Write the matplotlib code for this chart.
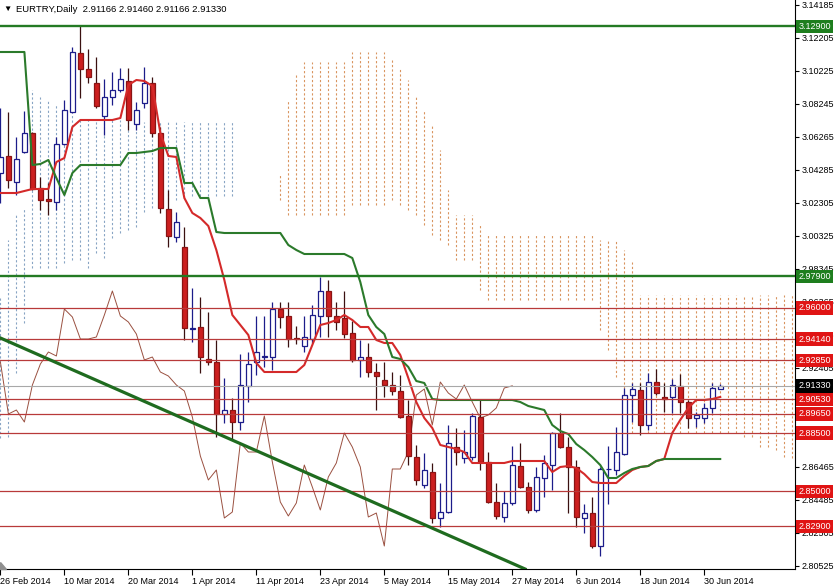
import matplotlib
matplotlib.use("Agg")
import matplotlib.pyplot as plt
import matplotlib.transforms as mtransforms
from matplotlib.patches import Polygon
import numpy as np
import pandas as pd

plt.rcParams["font.family"] = ["Liberation Sans", "DejaVu Sans"]

# EURTRY daily bars, first bar 26 Feb 2014
opens = [3.0410, 3.0512, 3.0356, 3.0536, 3.0650, 3.0320, 3.0254, 3.0236, 3.0584, 3.0776,
         3.1130, 3.1034, 3.0950, 3.0752, 3.0866, 3.0908, 3.0962, 3.0704, 3.0830, 3.0950,
         3.0650, 3.0194, 3.0026, 2.9966, 2.9474, 2.9486, 2.9294, 2.9276, 2.8964, 2.8988,
         2.8916, 2.9132, 2.9276, 2.9306, 2.9306, 2.9594, 2.9552, 2.9420, 2.9372, 2.9414,
         2.9552, 2.9702, 2.9552, 2.9540, 2.9450, 2.9288, 2.9306, 2.9216, 2.9168, 2.9138,
         2.9102, 2.8952, 2.8706, 2.8538, 2.8616, 2.8340, 2.8376, 2.8766, 2.8700, 2.8706,
         2.8946, 2.8676, 2.8436, 2.8346, 2.8430, 2.8652, 2.8526, 2.8388, 2.8580, 2.8658,
         2.8850, 2.8766, 2.8646, 2.8340, 2.8370, 2.8172, 2.8634, 2.8628, 2.8724, 2.9078,
         2.9108, 2.8898, 2.9156, 2.9066, 2.9066, 2.9132, 2.9036, 2.8940, 2.8940, 2.9000,
         2.91166]
highs = [3.0800, 3.0776, 3.0626, 3.0782, 3.0656, 3.0386, 3.0350, 3.0626, 3.0848, 3.1166,
         3.1292, 3.1154, 3.1106, 3.0974, 3.1016, 3.1040, 3.1040, 3.0836, 3.1046, 3.0986,
         3.0686, 3.0308, 3.0176, 3.0086, 2.9720, 2.9666, 2.9576, 2.9408, 2.9180, 2.9060,
         2.9324, 2.9336, 2.9552, 2.9552, 2.9636, 2.9636, 2.9636, 2.9492, 2.9552, 2.9618,
         2.9786, 2.9768, 2.9636, 2.9702, 2.9522, 2.9408, 2.9390, 2.9270, 2.9276, 2.9216,
         2.9198, 2.9048, 2.8778, 2.8730, 2.8670, 2.8550, 2.8898, 2.8880, 2.8868, 2.8970,
         2.9048, 2.8736, 2.8550, 2.8502, 2.8772, 2.8790, 2.8556, 2.8646, 2.8718, 2.8856,
         2.8970, 2.8826, 2.8688, 2.8424, 2.8466, 2.8646, 2.8772, 2.8886, 2.9120, 2.9150,
         2.9150, 2.9210, 2.9234, 2.9150, 2.9174, 2.9204, 2.9048, 2.8976, 2.9030, 2.9150,
         2.91460]
lows = [3.0230, 3.0320, 3.0278, 3.0530, 3.0308, 3.0188, 3.0158, 3.0188, 3.0578, 3.0770,
        3.0860, 3.0950, 3.0800, 3.0638, 3.0818, 3.0896, 3.0668, 3.0668, 3.0800, 3.0626,
        3.0170, 2.9966, 2.9996, 2.9408, 2.9396, 2.9210, 2.9258, 2.8826, 2.8910, 2.8808,
        2.8868, 2.9036, 2.9198, 2.9246, 2.9228, 2.9480, 2.9366, 2.9384, 2.9336, 2.9390,
        2.9426, 2.9426, 2.9468, 2.9420, 2.9276, 2.9186, 2.9186, 2.8988, 2.9066, 2.9078,
        2.8940, 2.8658, 2.8538, 2.8520, 2.8310, 2.8286, 2.8370, 2.8658, 2.8670, 2.8688,
        2.8628, 2.8430, 2.8334, 2.8316, 2.8418, 2.8520, 2.8370, 2.8376, 2.8466, 2.8508,
        2.8760, 2.8370, 2.8286, 2.8250, 2.8160, 2.8112, 2.8424, 2.8598, 2.8718, 2.8916,
        2.8838, 2.8868, 2.9078, 2.8976, 2.8970, 2.8970, 2.8880, 2.8886, 2.8910, 2.8970,
        2.91166]
closes = [3.0506, 3.0368, 3.0494, 3.0650, 3.0314, 3.0248, 3.0242, 3.0584, 3.0788, 3.1136,
          3.1034, 3.0986, 3.0812, 3.0866, 3.0908, 3.0974, 3.0728, 3.0788, 3.0950, 3.0650,
          3.0200, 3.0032, 3.0116, 2.9480, 2.9480, 2.9306, 2.9276, 2.8964, 2.8988, 2.8916,
          2.9138, 2.9264, 2.9336, 2.9312, 2.9594, 2.9546, 2.9414, 2.9414, 2.9426, 2.9558,
          2.9702, 2.9552, 2.9516, 2.9444, 2.9288, 2.9306, 2.9216, 2.9192, 2.9138, 2.9102,
          2.8946, 2.8712, 2.8568, 2.8628, 2.8340, 2.8376, 2.8790, 2.8736, 2.8736, 2.8952,
          2.8676, 2.8436, 2.8352, 2.8430, 2.8658, 2.8526, 2.8388, 2.8586, 2.8670, 2.8850,
          2.8766, 2.8646, 2.8346, 2.8370, 2.8172, 2.8634, 2.8634, 2.8736, 2.9078, 2.9114,
          2.8898, 2.9156, 2.9090, 2.9054, 2.9138, 2.9036, 2.8940, 2.8958, 2.9000, 2.9120,
          2.91330]

# Ichimoku lines
tenkan = [3.0290, 3.0290, 3.0290, 3.0302, 3.0314, 3.0314, 3.0314, 3.0476, 3.0500, 3.0686,
          3.0728, 3.0728, 3.0728, 3.0728, 3.0728, 3.0740, 3.0938, 3.0968, 3.0962, 3.0932,
          3.0650, 3.0512, 3.0506, 3.0260, 3.0170, 3.0140, 3.0092, 2.9948, 2.9768, 2.9558,
          2.9498, 2.9438, 2.9270, 2.9216, 2.9216, 2.9216, 2.9216, 2.9216, 2.9258, 2.9378,
          2.9498, 2.9510, 2.9528, 2.9558, 2.9528, 2.9486, 2.9486, 2.9408, 2.9390, 2.9390,
          2.9318, 2.9180, 2.9036, 2.8940, 2.8880, 2.8778, 2.8766, 2.8754, 2.8736, 2.8670,
          2.8670, 2.8670, 2.8670, 2.8670, 2.8682, 2.8682, 2.8682, 2.8682, 2.8682, 2.8616,
          2.8646, 2.8652, 2.8640, 2.8604, 2.8556, 2.8550, 2.8550, 2.8550, 2.8592, 2.8628,
          2.8646, 2.8652, 2.8682, 2.8694, 2.8850, 2.8928, 2.9000, 2.9048, 2.9048, 2.9054,
          2.9066]
kijun = [3.1136, 3.1136, 3.1136, 3.1136, 3.0458, 3.0464, 3.0488, 3.0380, 3.0278, 3.0410,
         3.0458, 3.0458, 3.0458, 3.0458, 3.0458, 3.0458, 3.0530, 3.0530, 3.0536, 3.0542,
         3.0560, 3.0560, 3.0560, 3.0350, 3.0350, 3.0260, 3.0260, 3.0056, 3.0050, 3.0050,
         3.0050, 3.0050, 3.0050, 3.0050, 3.0050, 3.0050, 2.9978, 2.9948, 2.9924, 2.9924,
         2.9924, 2.9924, 2.9924, 2.9924, 2.9900, 2.9756, 2.9558, 2.9486, 2.9444, 2.9306,
         2.9294, 2.9246, 2.9162, 2.9150, 2.9054, 2.9048, 2.9048, 2.9048, 2.9048, 2.9048,
         2.9048, 2.9048, 2.9048, 2.9048, 2.9048, 2.9036, 2.9012, 2.9000, 2.8988, 2.8898,
         2.8862, 2.8844, 2.8784, 2.8748, 2.8706, 2.8658, 2.8580, 2.8580, 2.8610, 2.8634,
         2.8646, 2.8652, 2.8682, 2.8694, 2.8694, 2.8694, 2.8694, 2.8694, 2.8694, 2.8694,
         2.8694]

# kumo, one column per bar (extends 26 bars past the last candle)
span_a = [2.9666, 3.0008, 3.0170, 3.0200, 3.0908, 3.0866, 3.0848, 3.0818, 3.0788, 3.0758,
          3.0740, 3.0728, 3.0728, 3.0728, 3.0728, 3.0728, 3.0716, 3.0716, 3.0716, 3.0716,
          3.0716, 3.0716, 3.0716, 3.0716, 3.0716, 3.0716, 3.0716, 3.0716, 3.0716, 3.0716,
          3.0400, 3.0400, 3.0400, 3.0400, 3.0400, 3.0248, 3.0158, 3.0158, 3.0158, 3.0158,
          3.0158, 3.0158, 3.0158, 3.0158, 3.0218, 3.0218, 3.0218, 3.0218, 3.0218, 3.0248,
          3.0218, 3.0188, 3.0158, 3.0098, 3.0038, 3.0008, 2.9978, 2.9888, 2.9888, 2.9888,
          2.9708, 2.9648, 2.9648, 2.9648, 2.9648, 2.9648, 2.9648, 2.9648, 2.9648, 2.9648,
          2.9648, 2.9648, 2.9648, 2.9648, 2.9648, 2.9468, 2.9348, 2.9186, 2.8850, 2.8850,
          2.8850, 2.8850, 2.8850, 2.8850, 2.8850, 2.8850, 2.8850, 2.8850, 2.8850, 2.8850,
          2.8850, 2.8850, 2.8850, 2.8826, 2.8826, 2.8766, 2.8766, 2.8748, 2.8706, 2.8700]
span_b = [2.8820, 2.8826, 2.9210, 2.9510, 2.9840, 2.9840, 2.9840, 2.9840, 2.9870, 2.9888,
          2.9888, 2.9840, 2.9930, 2.9900, 3.0020, 3.0050, 3.0068, 3.0086, 3.0176, 3.0200,
          3.0218, 3.0248, 3.0248, 3.0260, 3.0272, 3.0272, 3.0272, 3.0272, 3.0272, 3.0272,
          3.0400, 3.0400, 3.0400, 3.0400, 3.0400, 3.0398, 3.0848, 3.0998, 3.1076, 3.1076,
          3.1076, 3.1076, 3.1076, 3.1076, 3.1136, 3.1136, 3.1136, 3.1136, 3.1136, 3.1088,
          3.1040, 3.0968, 3.0878, 3.0788, 3.0698, 3.0548, 3.0308, 3.0158, 3.0158, 3.0158,
          3.0098, 3.0038, 3.0038, 3.0038, 3.0038, 3.0038, 3.0038, 3.0038, 3.0038, 3.0038,
          3.0038, 3.0038, 3.0038, 3.0038, 3.0038, 3.0008, 3.0008, 3.0008, 2.9948, 2.9876,
          2.9678, 2.9678, 2.9678, 2.9678, 2.9678, 2.9678, 2.9678, 2.9678, 2.9678, 2.9678,
          2.9678, 2.9678, 2.9678, 2.9678, 2.9678, 2.9678, 2.9678, 2.9678, 2.9678, 2.9678]

green_levels = [3.1290, 2.9790]
red_levels = [2.9600, 2.9414, 2.9285, 2.9053, 2.8965, 2.8850, 2.8500, 2.8290]
last_price = 2.9133
trend_points = [(0, 2.9420), (65.6, 2.8034)]

axis_ticks = [3.14185 - 0.0198 * k for k in range(18)]
hidden_ticks = [2.90425, 2.88445]  # covered by the price tags
date_step = 8
symbol = "EURTRY,Daily"


def main():
    n = len(closes)
    x = np.arange(n)
    o, h, l, c = (np.array(v) for v in (opens, highs, lows, closes))
    bull = c >= o
    dates = pd.bdate_range("2014-02-26", periods=n)

    fig = plt.figure(figsize=(8.34, 5.86), dpi=100)
    ax = fig.add_axes([0, 17 / 586, 795 / 834, 569 / 586])
    ax.set_xlim(-0.05, 99.35)
    ax.set_ylim(2.8034, 3.1448)

    # kumo drawn as dotted columns
    xc = np.arange(len(span_a))
    a, b = np.array(span_a), np.array(span_b)
    up = a > b
    dn = a < b
    ax.vlines(xc[up], b[up], a[up], colors="#88a4c4", linestyles=(0, (2, 2)),
              linewidth=0.8, zorder=1)
    ax.vlines(xc[dn], a[dn], b[dn], colors="#d9945f", linestyles=(0, (2, 2)),
              linewidth=0.8, zorder=1)

    # chikou span = close shifted 26 bars back
    ax.plot(x[26:] - 26, c[26:], color="#9a5040", linewidth=0.7, zorder=2)

    # candles
    ax.vlines(x[bull], l[bull], h[bull], colors="#1c1c8a", linewidth=0.9, zorder=3)
    ax.vlines(x[~bull], l[~bull], h[~bull], colors="#3a1010", linewidth=0.9, zorder=3)
    ax.bar(x[bull], (c - o)[bull], bottom=o[bull], width=0.62, color="white",
           edgecolor="#1c1c8a", linewidth=0.9, zorder=4)
    ax.bar(x[~bull], (o - c)[~bull], bottom=c[~bull], width=0.62, color="#cc1f1f",
           edgecolor="#8a1414", linewidth=0.9, zorder=4)

    ax.plot(x, tenkan, color="#d42a2a", linewidth=1.5, zorder=5)
    ax.plot(x, kijun, color="#2b7a2b", linewidth=1.5, zorder=6)

    # horizontal levels and trend line
    for lv in red_levels:
        ax.axhline(lv, color="#b83a3a", linewidth=0.9, zorder=7)
    ax.axhline(last_price, color="#a8a8a8", linewidth=0.8, zorder=7)
    for lv in green_levels:
        ax.axhline(lv, color="#237a23", linewidth=1.7, zorder=7)
    ax.axline(trend_points[0], trend_points[1], color="#1f6b1f", linewidth=2.3, zorder=8)

    # axes
    for side in ("left", "top"):
        ax.spines[side].set_visible(False)
    ax.yaxis.tick_right()
    ax.set_yticks(axis_ticks)
    labels = []
    for t in axis_ticks:
        hide = any(abs(t - ht) < 1e-6 for ht in hidden_ticks)
        labels.append("" if hide else f"{t:.5f}")
    ax.set_yticklabels(labels, fontsize=6.5)
    ax.tick_params(axis="y", length=3, pad=2)
    ax.set_xticks(x[::date_step])
    ax.set_xticklabels([f"{d.day} {d.strftime('%b %Y')}" for d in dates[::date_step]],
                       fontsize=6.5, ha="left")
    ax.tick_params(axis="x", length=4, pad=2)

    # price tags on the right axis
    trans = mtransforms.blended_transform_factory(ax.transAxes, ax.transData)
    tags = [(lv, "#1e7e1e") for lv in green_levels] + [(lv, "#e01414") for lv in red_levels]
    tags.append((last_price, "black"))
    for val, col in tags:
        ax.text(1.004, val, f"{val:.5f}", transform=trans, color="white", fontsize=6.5,
                va="center", ha="left", clip_on=False, zorder=10,
                bbox=dict(boxstyle="square,pad=0.25", fc=col, ec="none"))

    fig.text(3 / 834, 1 - 9 / 586, "\u25bc", fontsize=6, va="center")
    fig.text(16 / 834, 1 - 9 / 586,
             f"{symbol}  {opens[-1]:.5f} {highs[-1]:.5f} {lows[-1]:.5f} {closes[-1]:.5f}",
             fontsize=6.8, va="center")
    fig.patches.append(Polygon([[0, 24 / 586], [0, 17 / 586], [6 / 834, 17 / 586]],
                               closed=True, transform=fig.transFigure, color="#909090"))

    fig.savefig("out.png", dpi=100)


if __name__ == "__main__":
    main()
